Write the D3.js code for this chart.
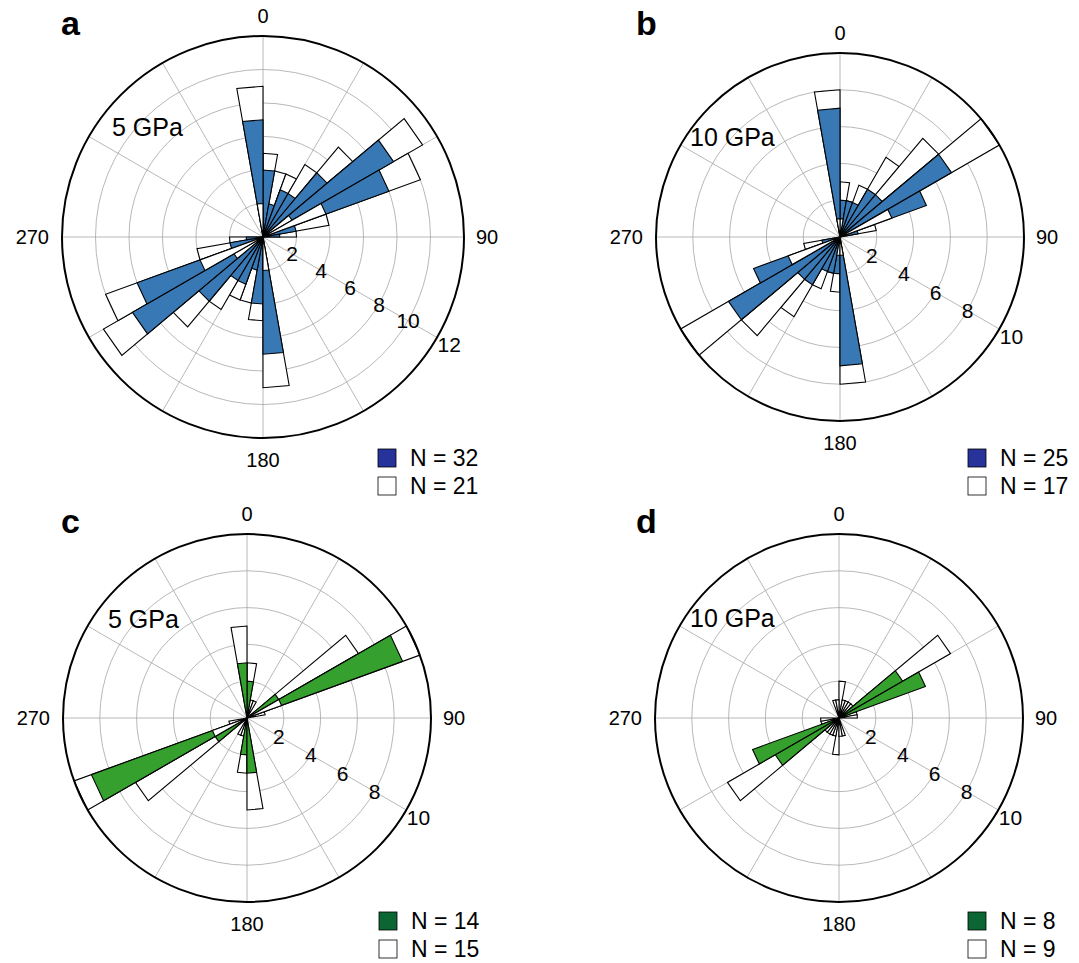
<!DOCTYPE html>
<html>
<head>
<meta charset="utf-8">
<script src="https://cdn.jsdelivr.net/npm/d3@7"></script>
<style>
body { margin: 0; background: #fff; }
text { font-family: "Liberation Sans", Arial, Helvetica, sans-serif; fill: #000; }
</style>
</head>
<body>
<script>
// 10 degree bins from 0 to 180, the other half is the mirror (axial data)
var binStarts = d3.range(0, 180, 10)
var angleLabels = [0, 90, 180, 270]

// panel a (5 GPa) - white = outer white bars, blue = blue bars, inner = white drawn over the blue
var whiteA = [5, 4, 4, 5, 7, 11, 10, 4, 2, 0, 0, 0, 0, 0, 0, 0, 0, 9]
var blueA  = [4, 2, 3, 3, 5, 9, 8, 2, 1, 0, 0, 0, 0, 0, 0, 0, 0, 7]
var innerA = [0, 0, 0, 0, 0, 2, 4, 0, 0, 0, 0, 0, 0, 0, 0, 0, 0, 2]
// panel b (10 GPa)
var whiteB = [3, 2, 3, 5, 7, 10, 0, 2, 0, 0, 0, 0, 0, 0, 0, 0, 0, 8]
var blueB  = [2, 2, 2, 3, 3, 7, 5, 1, 0, 0, 0, 0, 0, 0, 0, 0, 0, 7]
var innerB = [1, 0, 0, 0, 0, 0, 3, 0, 0, 0, 0, 0, 0, 0, 0, 0, 0, 1]
// panel c (5 GPa)
var whiteC = [3, 1, 1, 0, 0, 7, 10, 1, 0, 0, 0, 0, 0, 0, 0, 0, 0, 5]
var greenC = [2, 0, 0, 0, 0, 2, 9, 0, 0, 0, 0, 0, 0, 0, 0, 0, 0, 3]
var innerC = [0, 0, 0, 0, 0, 0, 2, 0, 0, 0, 0, 0, 0, 0, 0, 0, 0, 0]
// panel d (10 GPa)
var whiteD = [2, 1, 1, 1, 1, 7, 0, 1, 1, 0, 0, 0, 0, 0, 0, 0, 1, 1]
var greenD = [0, 0, 0, 0, 0, 4, 5, 0, 0, 0, 0, 0, 0, 0, 0, 0, 0, 0]
var innerD = [0, 0, 0, 0, 0, 0, 0, 0, 0, 0, 0, 0, 0, 0, 0, 0, 0, 0]

var nColour = [32, 25, 14, 8]
var nWhite  = [21, 17, 15, 9]
var pressures = ['5 GPa', '10 GPa', '5 GPa', '10 GPa']

var blue = '#3878b4', green = '#35a02d'

var panels = [
	{id: 'a', cx: 263, cy: 237, r: 201, max: 12, white: whiteA, col: blueA, inner: innerA, fill: blue, key: '#27339a', lx: 378, ly: 449, px: -151, py: -101},
	{id: 'b', cx: 840, cy: 237, r: 184, max: 10, white: whiteB, col: blueB, inner: innerB, fill: blue, key: '#27339a', lx: 968, ly: 449, px: -150, py: -91},
	{id: 'c', cx: 247, cy: 718, r: 184, max: 10, white: whiteC, col: greenC, inner: innerC, fill: green, key: '#0b6634', lx: 379, ly: 912, px: -139, py: -90},
	{id: 'd', cx: 839, cy: 718, r: 184, max: 10, white: whiteD, col: greenD, inner: innerD, fill: green, key: '#0b6634', lx: 968, ly: 912, px: -149, py: -91}
]

var svg = d3.select('body').append('svg')
	.attr('width', 1079)
	.attr('height', 963)

var rad = Math.PI / 180

// turn one half-circle series into wedges on both sides
function wedges(vals) {
	var out = []
	vals.forEach(function (v, i) {
		if (v > 0) {
			out.push({a: binStarts[i], v: v})
			out.push({a: binStarts[i] + 180, v: v})
		}
	})
	return out
}

panels.forEach(function (p, k) {
	var g = svg.append('g').attr('transform', 'translate(' + p.cx + ',' + p.cy + ')')
	var rScale = d3.scaleLinear().domain([0, p.max]).range([0, p.r])
	var ticks = d3.range(2, p.max + 1, 2)

	// grid
	g.selectAll('.ring').data(ticks.slice(0, -1)).enter().append('circle')
		.attr('r', function (d) { return rScale(d) })
		.attr('fill', 'none').attr('stroke', '#a6a6a6').attr('stroke-width', 0.8)
	g.selectAll('.spoke').data(d3.range(0, 360, 30)).enter().append('line')
		.attr('x2', function (d) { return p.r * Math.sin(d * rad) })
		.attr('y2', function (d) { return -p.r * Math.cos(d * rad) })
		.attr('stroke', '#a6a6a6').attr('stroke-width', 0.8)

	// wedge path, straight outer edge like a rose plot
	var wedge = function (d) {
		return d3.lineRadial().curve(d3.curveLinearClosed)([
			[0, 0],
			[d.a * rad, rScale(d.v)],
			[(d.a + 10) * rad, rScale(d.v)]
		])
	}
	var layers = [[p.white, '#fff'], [p.col, p.fill], [p.inner, '#fff']]
	layers.forEach(function (l) {
		g.append('g').selectAll('path').data(wedges(l[0])).enter().append('path')
			.attr('d', wedge)
			.attr('fill', l[1])
			.attr('stroke', '#000').attr('stroke-width', 1.1)
			.attr('stroke-linejoin', 'miter')
	})

	// outer circle
	g.append('circle').attr('r', p.r).attr('fill', 'none')
		.attr('stroke', '#000').attr('stroke-width', 2)

	// radial labels along 120 degrees
	g.selectAll('.rl').data(ticks).enter().append('text')
		.attr('x', function (d) { return (rScale(d) + (d === p.max ? 14 : 0)) * Math.sin(120 * rad) })
		.attr('y', function (d) { return -(rScale(d) + (d === p.max ? 14 : 0)) * Math.cos(120 * rad) })
		.attr('text-anchor', 'middle').attr('dy', '0.36em')
		.style('font-size', '21px')
		.text(function (d) { return d })

	// angle labels
	g.selectAll('.al').data(angleLabels).enter().append('text')
		.attr('x', function (d) { return d === 90 ? p.r + 12 : d === 270 ? -p.r - 13 : 0 })
		.attr('y', function (d) { return d === 0 ? -p.r - 13 : d === 180 ? p.r + 29 : 7 })
		.attr('text-anchor', function (d) { return d === 90 ? 'start' : d === 270 ? 'end' : 'middle' })
		.style('font-size', '20px')
		.text(function (d) { return d })

	// pressure
	g.append('text').attr('x', p.px).attr('y', p.py)
		.style('font-size', '25px').text(pressures[k])

	// panel letter
	svg.append('text').attr('x', p.id === 'a' || p.id === 'c' ? 61 : 636)
		.attr('y', p.cy < 400 ? 35 : 533)
		.style('font-size', '34px').style('font-weight', 'bold').text(p.id)

	// legend
	var lg = svg.append('g').attr('transform', 'translate(' + p.lx + ',' + p.ly + ')')
	lg.append('rect').attr('width', 18).attr('height', 18).attr('fill', p.key)
		.attr('stroke', '#000').attr('stroke-width', 0.8)
	lg.append('rect').attr('y', 28).attr('width', 18).attr('height', 18).attr('fill', '#fff')
		.attr('stroke', '#000').attr('stroke-width', 0.8)
	lg.append('text').attr('x', 32).attr('y', 17).style('font-size', '23px').text('N = ' + nColour[k])
	lg.append('text').attr('x', 32).attr('y', 45).style('font-size', '23px').text('N = ' + nWhite[k])
})
</script>
</body>
</html>
